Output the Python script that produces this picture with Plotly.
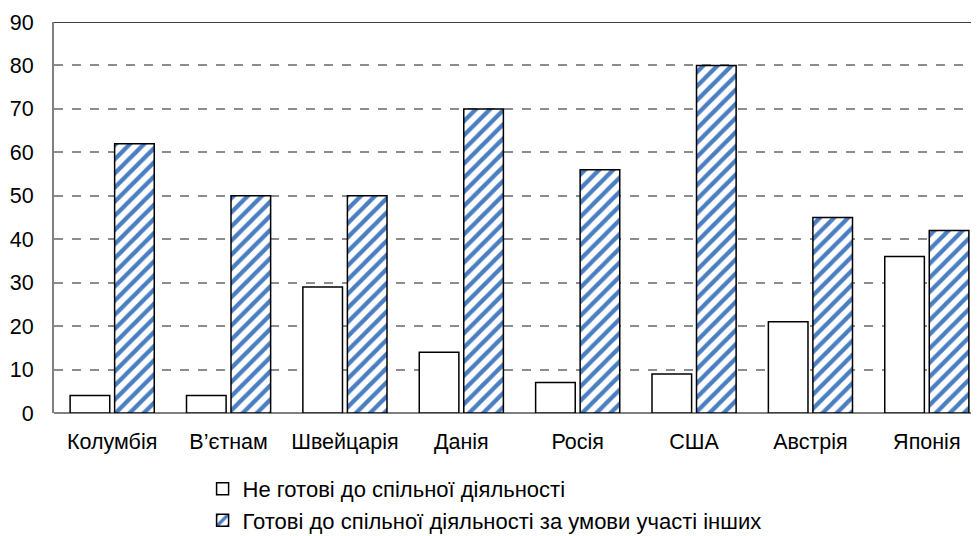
import plotly.graph_objects as go

categories = ["Колумбія", "В’єтнам", "Швейцарія", "Данія", "Росія", "США", "Австрія", "Японія"]
not_ready = [4, 4, 29, 14, 7, 9, 21, 36]
ready_if_others = [62, 50, 50, 70, 56, 80, 45, 42]
series_names = ["Не готові до спільної діяльності",
                "Готові до спільної діяльності за умови участі інших"]
y_ticks = [0, 10, 20, 30, 40, 50, 60, 70, 80, 90]

FONT = "Liberation Sans, Arial, sans-serif"

fig = go.Figure()
fig.add_trace(go.Bar(
    x=categories, y=not_ready, name=series_names[0],
    marker=dict(color="white", line=dict(color="black", width=1.5)),
))
fig.add_trace(go.Bar(
    x=categories, y=ready_if_others, name=series_names[1],
    marker=dict(color="white", line=dict(color="black", width=1.5),
                pattern=dict(shape="/", fgcolor="#4A7EC2", bgcolor="white",
                             fgopacity=1, size=10, solidity=0.42,
                             fillmode="overlay")),
))

fig.add_shape(type="line", xref="paper", yref="y", x0=0, x1=1, y0=90, y1=90,
              line=dict(color="black", width=1.5))

fig.update_layout(
    width=979, height=536,
    margin=dict(l=46, r=2, t=14, b=131, autoexpand=False),
    paper_bgcolor="white", plot_bgcolor="white",
    barmode="group", bargap=0.235, bargroupgap=0.11,
    font=dict(family=FONT, size=21.5, color="black"),
    showlegend=True,
    legend=dict(orientation="v", x=0.1596, xanchor="left",
                yref="container", y=0.004, yanchor="bottom",
                font=dict(family=FONT, size=22, color="black"),
                tracegroupgap=2, itemwidth=30, bgcolor="rgba(0,0,0,0)"),
    xaxis=dict(range=[-0.5, 7.5], showline=False, ticks="", showgrid=False,
               tickfont=dict(size=21.5), ticklabelstandoff=13, automargin=False),
    yaxis=dict(range=[0, 90], tickvals=y_ticks, showgrid=True,
               gridcolor="#8c8c8c", griddash="dash", gridwidth=1.5,
               showline=True, linecolor="#808080", linewidth=2,
               ticks="", ticklen=0, zeroline=True, zerolinecolor="#808080",
               zerolinewidth=2, tickfont=dict(size=21.5), ticklabelstandoff=14,
               automargin=False),
)

fig.write_html("out.html")
